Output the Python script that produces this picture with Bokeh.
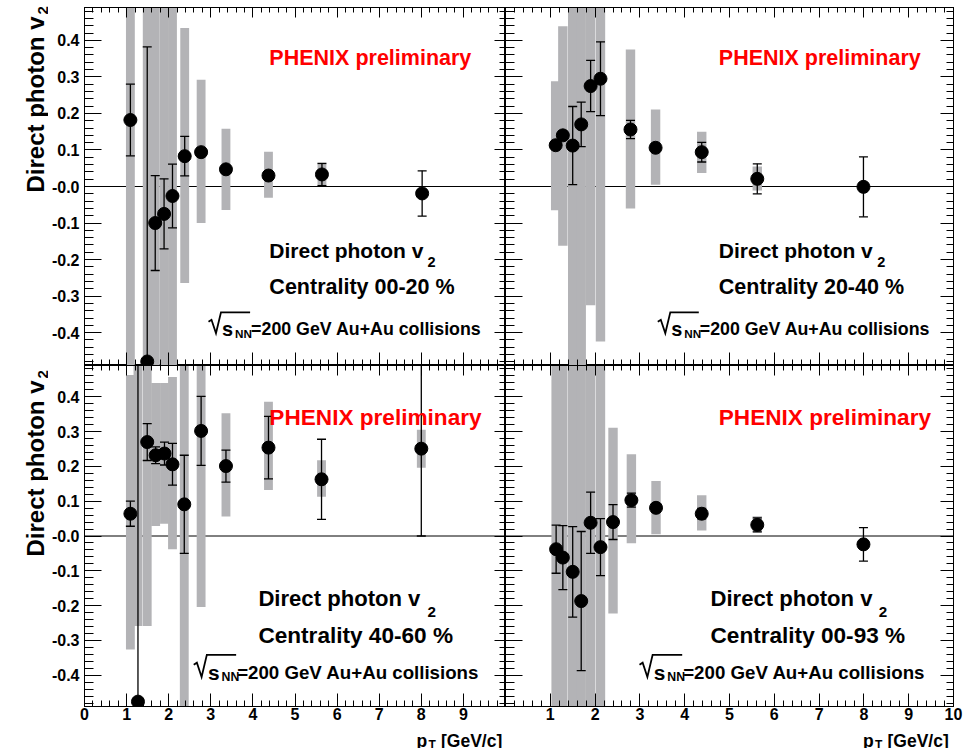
import math
import numpy as np
from bokeh.plotting import figure
from bokeh.models import (Range1d, LinearAxis, FixedTicker, CustomJSTickFormatter, Label, Span)
from bokeh.layouts import column, row
from bokeh.embed import file_html
from bokeh.resources import INLINE

# ---- direct photon v2 vs pT, Au+Au at sqrt(sNN)=200 GeV ----
# pT (GeV/c), v2, statistical error, lower / upper edge of the systematic band

# centrality 00-20 %
pt_00_20 = [1.09, 1.49, 1.68, 1.89, 2.09, 2.38, 2.77, 3.36, 4.37, 5.64, 8.02]
v2_00_20 = [0.182, -0.479, -0.100, -0.075, -0.026, 0.083, 0.094, 0.047, 0.030, 0.033, -0.019]
stat_00_20 = [0.098, 0.861, 0.130, 0.096, 0.087, 0.054, 0.012, 0.010, 0.012, 0.030, 0.062]
sys_lo_00_20 = [-1.5, -1.5, -1.5, -1.5, -1.5, -0.264, -0.100, -0.064, -0.031, 0.006, -0.019]
sys_hi_00_20 = [1.5, 1.5, 1.5, 1.5, 1.5, 0.434, 0.292, 0.158, 0.095, 0.060, -0.019]

# centrality 20-40 %
pt_20_40 = [1.12, 1.28, 1.50, 1.69, 1.90, 2.12, 2.79, 3.35, 4.38, 5.62, 7.99]
v2_20_40 = [0.113, 0.140, 0.112, 0.170, 0.275, 0.295, 0.156, 0.106, 0.094, 0.021, -0.001]
stat_20_40 = [0.012, 0.012, 0.107, 0.061, 0.070, 0.101, 0.025, 0.012, 0.027, 0.041, 0.082]
sys_lo_20_40 = [-0.065, -0.162, -1.5, -1.5, -0.325, -0.424, -0.060, 0.005, 0.037, -0.011, -0.001]
sys_hi_20_40 = [0.288, 0.439, 1.5, 1.5, 1.5, 1.5, 0.375, 0.211, 0.150, 0.055, -0.001]

# centrality 40-60 %
pt_40_60 = [1.09, 1.27, 1.49, 1.69, 1.90, 2.09, 2.37, 2.77, 3.36, 4.37, 5.63, 8.00]
v2_40_60 = [0.064, -0.476, 0.270, 0.232, 0.237, 0.206, 0.091, 0.302, 0.201, 0.254, 0.163, 0.251]
stat_40_60 = [0.036, 1.200, 0.053, 0.024, 0.033, 0.060, 0.141, 0.099, 0.046, 0.090, 0.115, 0.251]
sys_lo_40_60 = [-0.326, -0.259, -0.259, 0.029, 0.035, -0.038, -1.5, -0.204, 0.056, 0.132, 0.113, 0.196]
sys_hi_40_60 = [0.463, 1.5, 1.5, 0.440, 0.440, 0.457, 1.5, 1.5, 0.353, 0.386, 0.218, 0.305]

# centrality 00-93 %
pt_00_93 = [1.13, 1.28, 1.50, 1.69, 1.90, 2.12, 2.40, 2.81, 3.36, 4.38, 5.62, 7.99]
v2_00_93 = [-0.038, -0.062, -0.103, -0.187, 0.038, -0.032, 0.040, 0.103, 0.081, 0.064, 0.032, -0.024]
stat_00_93 = [0.069, 0.092, 0.130, 0.200, 0.088, 0.082, 0.050, 0.020, 0.012, 0.015, 0.020, 0.048]
sys_lo_00_93 = [-1.5, -1.5, -1.5, -1.5, -1.5, -1.5, -0.223, -0.021, 0.005, 0.016, 0.010, -0.024]
sys_hi_00_93 = [1.5, 1.5, 1.5, 1.5, 1.5, 1.5, 0.311, 0.235, 0.158, 0.117, 0.057, -0.024]

# axis ticks and their labels
X_TICKS = [0, 1, 2, 3, 4, 5, 6, 7, 8, 9, 10]
X_LABELS_LEFT = ["0", "1", "2", "3", "4", "5", "6", "7", "8", "9", ""]
X_LABELS_RIGHT = ["", "1", "2", "3", "4", "5", "6", "7", "8", "9", "10"]
Y_TICKS = [-0.4, -0.3, -0.2, -0.1, 0.0, 0.1, 0.2, 0.3, 0.4]
Y_LABELS = ["-0.4", "-0.3", "-0.2", "-0.1", "-0.0", "0.1", "0.2", "0.3", "0.4"]
X_MINOR = [round(v, 2) for v in np.arange(0, 10.001, 0.2)]
Y_MINOR = [round(v, 3) for v in np.arange(-0.48, 0.4801, 0.02)]

FONT = "Liberation Sans"
BAND = "#b3b3b6"
HALF_W = 0.105          # half width of a systematic band (GeV/c)
X_RANGE = (0, 10)
Y_RANGE = (-0.49, 0.49)
PAGE_W, PAGE_H = 967, 748
Y_STRIP_W = 48          # column holding the vertical axis titles
X_STRIP_H = 23          # row holding the horizontal axis titles

# frame placement on the page: left, top, width, height (px)
FRAMES = {
    "tl": (83, 7, 422, 358),
    "tr": (505, 7, 448, 358),
    "bl": (83, 365, 422, 341),
    "br": (505, 365, 448, 341),
}

LABEL_JS = """
for (let i = 0; i < tick_vals.length; i++) {
    if (Math.abs(tick_vals[i] - tick) < 1e-6) { return tick_text[i]; }
}
return "";
"""


def add_axis(p, side, ticks, minor, tick_in, minor_in, labels=None, standoff=0):
    ax = LinearAxis(ticker=FixedTicker(ticks=ticks, minor_ticks=minor))
    ax.axis_line_color = "black"
    ax.axis_line_width = 1
    ax.major_tick_line_color = "black"
    ax.minor_tick_line_color = "black"
    ax.major_tick_in = tick_in
    ax.major_tick_out = 0
    ax.minor_tick_in = minor_in
    ax.minor_tick_out = 0
    if labels is None:
        labels = [""] * len(ticks)
        ax.major_label_text_font_size = "1px"
        ax.major_label_standoff = 0
    else:
        ax.major_label_text_font = FONT
        ax.major_label_text_font_style = "bold"
        ax.major_label_text_font_size = "16px"
        ax.major_label_text_color = "black"
        ax.major_label_standoff = standoff
    ax.formatter = CustomJSTickFormatter(args=dict(tick_vals=ticks, tick_text=labels), code=LABEL_JS)
    p.add_layout(ax, side)


def text_label(x, y, s, size, color="black", angle=0.0, align="left"):
    return Label(x=x, y=y, text=s, text_font=FONT, text_font_style="bold",
                 text_font_size=f"{size:.1f}px", text_color=color, text_align=align,
                 text_baseline="alphabetic", angle=angle)


def make_panel(key, pt, v2, stat, sys_lo, sys_hi, centrality, texts):
    fx, fy, fw, fh = FRAMES[key]
    is_left = key[1] == "l"
    is_top = key[0] == "t"
    b_left = fx - Y_STRIP_W if is_left else 0
    b_right = 0 if is_left else PAGE_W - (fx + fw)
    b_top = fy if is_top else 0
    b_bottom = 0 if is_top else PAGE_H - X_STRIP_H - (fy + fh)

    p = figure(width=b_left + fw + b_right, height=b_top + fh + b_bottom,
               x_range=Range1d(*X_RANGE), y_range=Range1d(*Y_RANGE),
               x_axis_type=None, y_axis_type=None,
               output_backend="svg", toolbar_location=None,
               min_border_left=b_left, min_border_right=b_right,
               min_border_top=b_top, min_border_bottom=b_bottom)
    p.outline_line_color = "black"
    p.background_fill_color = "white"
    p.border_fill_color = "white"

    # frame axes with inward ticks on all four sides
    add_axis(p, "left", Y_TICKS, Y_MINOR, 17, 9, Y_LABELS if is_left else None, standoff=5)
    add_axis(p, "right", Y_TICKS, Y_MINOR, 11 if is_left else 13, 6 if is_left else 7)
    add_axis(p, "above", X_TICKS, X_MINOR, 10, 5)
    if is_top:
        add_axis(p, "below", X_TICKS, X_MINOR, 13, 6)
    else:
        add_axis(p, "below", X_TICKS, X_MINOR, 13, 6,
                 X_LABELS_LEFT if is_left else X_LABELS_RIGHT, standoff=1)

    # page pixel -> data helpers for text placement inside the frame
    def X(px):
        return X_RANGE[0] + (px - fx) / fw * (X_RANGE[1] - X_RANGE[0])

    def Y(py):
        return Y_RANGE[1] - (py - fy) / fh * (Y_RANGE[1] - Y_RANGE[0])

    def put(px, py, s, size, color="black"):
        p.add_layout(text_label(X(px), Y(py), s, size, color))

    # zero line below the bands
    p.add_layout(Span(location=0, dimension="width", line_color="black", line_width=1,
                      level="underlay"))

    pt_a = np.array(pt)
    v2_a = np.array(v2)
    st_a = np.array(stat)
    # systematic bands
    p.quad(left=pt_a - HALF_W, right=pt_a + HALF_W, bottom=sys_lo, top=sys_hi,
           fill_color=BAND, line_color=None)
    # statistical error bars with caps
    p.segment(x0=pt_a, y0=v2_a - st_a, x1=pt_a, y1=v2_a + st_a, line_color="black", line_width=1.3)
    p.scatter(pt_a, v2_a + st_a, marker="dash", size=9, line_color="black", line_width=1.3)
    p.scatter(pt_a, v2_a - st_a, marker="dash", size=9, line_color="black", line_width=1.3)
    # data points
    p.scatter(pt_a, v2_a, size=13, fill_color="black", line_color="black")

    t = texts
    s = t["scale"]
    put(*t["phenix"], "PHENIX preliminary", 21.5 * s, color="#ff0000")
    put(*t["dir"], "Direct photon v", 21 * s)
    put(*t["dir_sub"], "2", 14.5 * s)
    put(*t["cent"], f"Centrality {centrality} %", 21.5 * s)

    # sqrt(s_NN) with a drawn radical sign
    rx, base = t["sqrt"]
    eq = t["eq"]
    fs = 17.8 * s
    rad_px = [rx, rx + 3 * s, rx + 7.5 * s, rx + 12.5 * s, eq - 1]
    rad_py = [base - 7 * s, base - 9 * s, base + 4.5 * s, base - 16.5 * s, base - 16.5 * s]
    p.line([X(v) for v in rad_px], [Y(v) for v in rad_py], line_color="black", line_width=1.8,
           line_join="miter")
    put(rx + 13.5 * s, base, "s", fs * 1.12)
    put(rx + 26.5 * s, base + 5 * s, "NN", fs * 0.66)
    put(eq, base, "=200 GeV Au+Au collisions", fs)
    return p


def strip(x0, y0, width, height):
    # blank canvas whose data coordinates are page pixels
    f = figure(width=width, height=height,
               x_range=Range1d(x0, x0 + width), y_range=Range1d(y0 + height, y0),
               x_axis_type=None, y_axis_type=None,
               output_backend="svg", toolbar_location=None,
               min_border_left=0, min_border_right=0, min_border_top=0, min_border_bottom=0)
    f.outline_line_color = None
    f.background_fill_color = "white"
    f.border_fill_color = "white"
    return f


p_tl = make_panel("tl", pt_00_20, v2_00_20, stat_00_20, sys_lo_00_20, sys_hi_00_20, "00-20",
                  dict(scale=1.0, phenix=(268.3, 57.3), dir=(268.3, 250), dir_sub=(426.7, 261.7),
                       cent=(268.3, 286.7), sqrt=(207.3, 328.3), eq=250))
p_tr = make_panel("tr", pt_20_40, v2_20_40, stat_20_40, sys_lo_20_40, sys_hi_20_40, "20-40",
                  dict(scale=1.0, phenix=(718.3, 57.3), dir=(718.3, 250), dir_sub=(876.7, 261.7),
                       cent=(718.3, 286.7), sqrt=(657.3, 328.3), eq=699.3))
p_bl = make_panel("bl", pt_40_60, v2_40_60, stat_40_60, sys_lo_40_60, sys_hi_40_60, "40-60",
                  dict(scale=1.05, phenix=(268.3, 416.7), dir=(257.3, 598.3), dir_sub=(426.7, 611.7),
                       cent=(257.3, 635), sqrt=(192.5, 671.7), eq=236))
p_br = make_panel("br", pt_00_93, v2_00_93, stat_00_93, sys_lo_00_93, sys_hi_00_93, "00-93",
                  dict(scale=1.05, phenix=(718.3, 416.7), dir=(710, 598.3), dir_sub=(878.3, 611.7),
                       cent=(710, 635), sqrt=(639, 671.7), eq=682.7))

# vertical axis titles, one per row, aligned to the top of each frame
y_strip = strip(0, 0, Y_STRIP_W, PAGE_H)
for end_y in (16, 380):
    y_strip.add_layout(text_label(35, end_y, "Direct photon v", 24, angle=math.pi / 2, align="right"))
    y_strip.add_layout(text_label(42, end_y - 2, "2", 15, angle=math.pi / 2, align="left"))

# horizontal axis titles, right-aligned under each bottom frame
x_strip = strip(Y_STRIP_W, PAGE_H - X_STRIP_H, PAGE_W - Y_STRIP_W, X_STRIP_H)
for px in (416, 862.5):
    x_strip.add_layout(text_label(px, 740.5, "p", 17.5))
    x_strip.add_layout(text_label(px + 12, 744, "T", 12))
    x_strip.add_layout(text_label(px + 24.5, 740.5, "[GeV/c]", 17.5))

layout = row(
    y_strip,
    column(row(p_tl, p_tr, spacing=0), row(p_bl, p_br, spacing=0), x_strip, spacing=0),
    spacing=0,
)

with open("out.html", "w") as f:
    f.write(file_html(layout, INLINE))
